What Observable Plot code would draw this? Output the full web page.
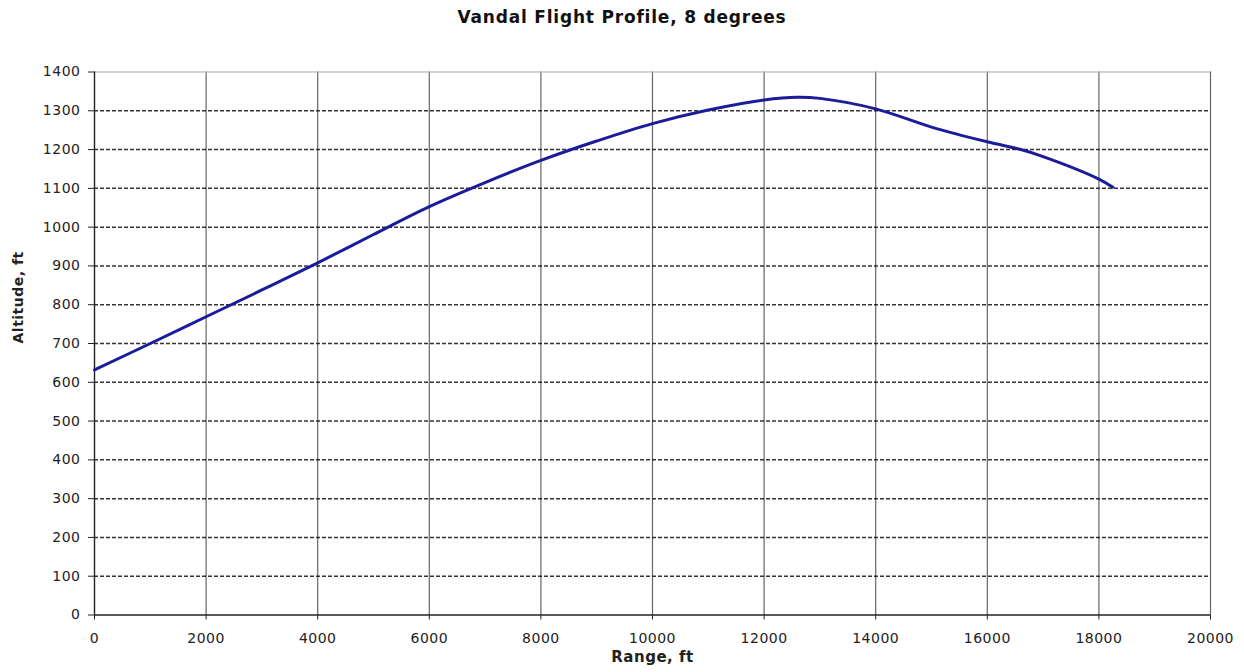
<!DOCTYPE html>
<html>
<head>
<meta charset="utf-8">
<script src="https://cdn.jsdelivr.net/npm/d3@7"></script>
<script src="https://cdn.jsdelivr.net/npm/@observablehq/plot@0.6"></script>
<style>
  body { margin: 0; background: #fff; }
  #title { height: 34px; line-height: 34px; text-align: center; font-family: "DejaVu Sans", sans-serif; font-weight: bold; font-size: 17px; letter-spacing: 0.8px; color: #111; }
</style>
</head>
<body>
<div id="title">Vandal Flight Profile, 8 degrees</div>
<div id="chart"></div>
<script>
const rangeFt = [0, 1000, 2000, 3000, 4000, 5000, 6000, 7000, 8000, 9000, 10000, 11000, 12000, 12600, 13000, 14000, 15000, 16000, 16600, 17000, 18000, 18250];
const altitudeFt = [632, 700, 769, 838, 908, 981, 1053, 1115, 1172, 1222, 1267, 1302, 1328, 1335, 1332, 1305, 1258, 1220, 1200, 1182, 1124, 1103];
const xTicks = [0, 2000, 4000, 6000, 8000, 10000, 12000, 14000, 16000, 18000, 20000];
const yTicks = [0, 100, 200, 300, 400, 500, 600, 700, 800, 900, 1000, 1100, 1200, 1300, 1400];

const data = rangeFt.map((r, i) => ({range: r, alt: altitudeFt[i]}));

const chart = Plot.plot({
  width: 1244,
  height: 638,
  marginLeft: 94,
  marginRight: 34,
  marginTop: 37.5,
  marginBottom: 57.5,
  style: {fontFamily: "DejaVu Sans, sans-serif", fontSize: "14px", color: "#222", background: "#fff", letterSpacing: "0.5px"},
  x: {domain: [0, 20000], label: null},
  y: {domain: [0, 1400], label: null},
  marks: [
    Plot.gridX(xTicks.slice(1), {stroke: "#666", strokeOpacity: 1, strokeWidth: 1.2}),
    Plot.gridY(yTicks.filter(d => d > 0 && d < 1400), {stroke: "#111", strokeOpacity: 0.85, strokeWidth: 1.5, strokeDasharray: "4,2"}),
    Plot.ruleY([1400], {stroke: "#aaa", strokeWidth: 1.2}),
    Plot.ruleY([0], {stroke: "#222", strokeWidth: 1.4}),
    Plot.ruleX([0], {stroke: "#222", strokeWidth: 1.4}),
    Plot.axisX(xTicks, {tickSize: 5, tickPadding: 13, label: null, tickFormat: d => String(d)}),
    Plot.axisY(yTicks, {tickSize: 6, tickPadding: 8, label: null, tickFormat: d => String(d)}),
    Plot.line(data, {x: "range", y: "alt", stroke: "#1c1c9a", strokeWidth: 3, curve: "catmull-rom"}),
    Plot.text(["Range, ft"], {frameAnchor: "bottom", dy: 46.5, fontWeight: "bold", fontSize: 15, fill: "#222"}),
    Plot.text(["Altitude, ft"], {frameAnchor: "left", dx: -76, rotate: -90, fontWeight: "bold", fontSize: 14, fill: "#222"})
  ]
});
document.getElementById("chart").appendChild(chart);
</script>
</body>
</html>
